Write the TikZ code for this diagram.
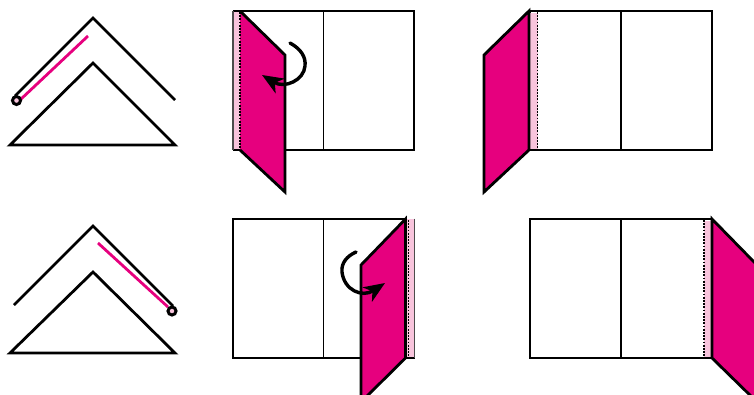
\documentclass[tikz,border=0pt]{standalone}
\usetikzlibrary{arrows.meta}
\definecolor{flapmagenta}{RGB}{230,0,126}
\definecolor{gluepink}{RGB}{248,196,220}
\tikzset{
  outline/.style={draw=black, line width=2.8pt, line join=miter},
  foldline/.style={draw=black, line width=1.6pt},
  sheet/.style={outline, fill=white},
  flap/.style={outline, fill=flapmagenta},
  flapfill/.style={fill=flapmagenta},
  gluefill/.style={fill=gluepink},
  glueedge/.style={draw=black!70, line width=1.4pt},
  gluedots/.style={draw=black, line width=1.3pt, dash pattern=on 1.8pt off 1.4pt},
  hem/.style={draw=flapmagenta, line width=2.8pt},
  hole/.style={draw=black, line width=3pt, fill=gluepink},
  turn/.style={draw=black, line width=3.4pt, line cap=round, -{Stealth[length=21pt, width=17pt, inset=6pt]}}
}
\begin{document}
\begin{tikzpicture}[x=1pt, y=-1pt]
  \useasboundingbox (0,0) rectangle (754,394);

  % top left section
  \draw[outline] (10,145) -- (93,63) -- (175,145) -- cycle;
  \draw[hem] (20,100) -- (88,36);
  \draw[outline] (15,96) -- (93,18) -- (175,100);
  \draw[hole] (16.5,100.5) circle (4);

  % bottom left section
  \draw[outline] (10,353) -- (93,272) -- (175,353) -- cycle;
  \draw[hem] (98,243) -- (168,307);
  \draw[outline] (14,305) -- (93,226) -- (173,306);
  \draw[hole] (172,311) circle (4);

  % top middle sheet
  \fill[gluefill] (233,11) rectangle (240,150);
  \draw[sheet, fill=none] (233,11) -- (414,11) -- (414,150) -- (233,150);
  \draw[foldline] (323.5,11) -- (323.5,150);
  \draw[glueedge] (233,11) -- (233,150);
  \fill[flapfill] (240,11) -- (285,55) -- (285,192) -- (240,150) -- cycle;
  \draw[gluedots] (240,12) -- (240,150);
  \draw[outline] (240,11) -- (285,55) -- (285,192) -- (240,150);
  \draw[turn] (290,43) .. controls (301,49) and (306,57) .. (305,66)
    .. controls (304,80) and (285,89) .. (262,75);

  % top right sheet
  \draw[sheet] (530,11) rectangle (712,150);
  \draw[foldline] (621,11) -- (621,150);
  \fill[gluefill] (530,12.5) rectangle (537.5,148.5);
  \draw[gluedots] (537.5,12) -- (537.5,149);
  \draw[flap] (529,11) -- (484,55) -- (484,192) -- (529,150) -- cycle;

  % bottom middle sheet
  \fill[gluefill] (405,219) rectangle (415,358);
  \draw[sheet, fill=none] (406,219) -- (233,219) -- (233,358) -- (415,358);
  \draw[foldline] (323.5,219) -- (323.5,358);
  \draw[gluedots] (408.5,220) -- (408.5,357);
  \draw[glueedge] (414.7,218.5) -- (414.7,358);
  \draw[flap] (405.5,219) -- (361,265) -- (361,402) -- (405.5,358) -- cycle;
  \draw[turn] (356,252) .. controls (347,256) and (341,263) .. (342,272)
    .. controls (344,290) and (362,298) .. (385,283);

  % bottom right sheet
  \draw[sheet] (530,219) rectangle (712,358);
  \draw[foldline] (621,219) -- (621,358);
  \fill[gluefill] (704,220.5) rectangle (711,356.5);
  \draw[gluedots] (704,220) -- (704,357);
  \draw[flap] (712,219) -- (757,265) -- (757,402) -- (712,358) -- cycle;
\end{tikzpicture}
\end{document}
